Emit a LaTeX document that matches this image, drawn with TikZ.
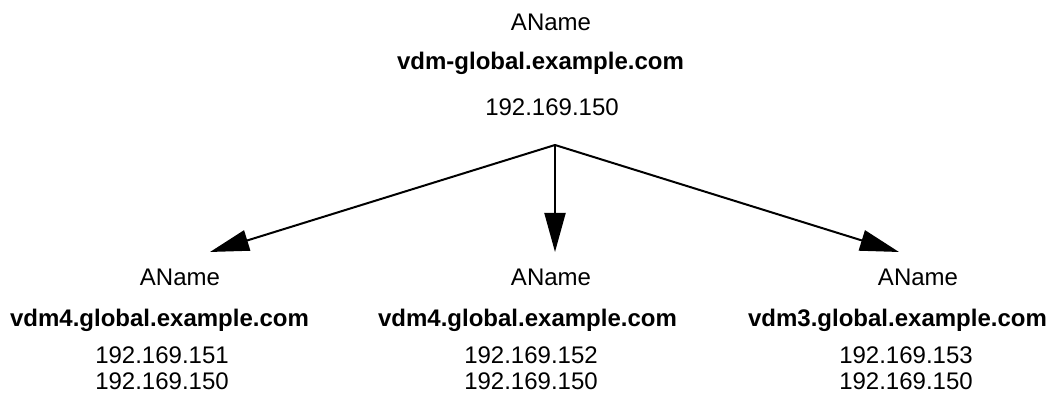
\documentclass[tikz,border=0pt]{standalone}
\usepackage{fontspec}
\setmainfont{Liberation Sans}
\usetikzlibrary{arrows.meta,positioning}
\tikzset{lbl/.style={anchor=base, inner sep=0pt, font=\fontsize{12}{14}\selectfont},
    host/.style={lbl, font=\fontsize{12}{14}\selectfont\bfseries},
    arr/.style={-{Triangle[length=19.5pt,width=10.5pt]}, line width=1pt}}

\begin{document}
\begin{tikzpicture}[x=0.5pt, y=-0.5pt]
    \useasboundingbox (0, 0) rectangle (1049, 400);
    % top record
    \node[lbl] (topname) at (551, 31) {AName};
    \node[host] (tophost) at (540.5, 70) {vdm-global.example.com};
    \node[lbl] (topip) at (552, 116) {192.169.150};
    % left record
    \node[lbl] (lname) at (180, 285.5) {AName};
    \node[host] (lhost) at (159.5, 326.5) {vdm4.global.example.com};
    \node[lbl] (lip1) at (162, 363.5) {192.169.151};
    \node[lbl] (lip2) at (162, 389.5) {192.169.150};
    % middle record
    \node[lbl] (mname) at (551, 285.5) {AName};
    \node[host] (mhost) at (527.5, 326.5) {vdm4.global.example.com};
    \node[lbl] (mip1) at (531, 363.5) {192.169.152};
    \node[lbl] (mip2) at (531, 389.5) {192.169.150};
    % right record
    \node[lbl] (rname) at (918, 285.5) {AName};
    \node[host] (rhost) at (897.5, 326.5) {vdm3.global.example.com};
    \node[lbl] (rip1) at (906, 363.5) {192.169.153};
    \node[lbl] (rip2) at (906, 389.5) {192.169.150};
    % arrows
    \coordinate (apex) at (555, 145);
    \coordinate (ltip) at (210, 252);
    \coordinate (mtip) at (555, 252);
    \coordinate (rtip) at (899, 252);
    \draw[arr] (apex) -- (ltip);
    \draw[arr] (apex) -- (mtip);
    \draw[arr] (apex) -- (rtip);
\end{tikzpicture}
\end{document}
